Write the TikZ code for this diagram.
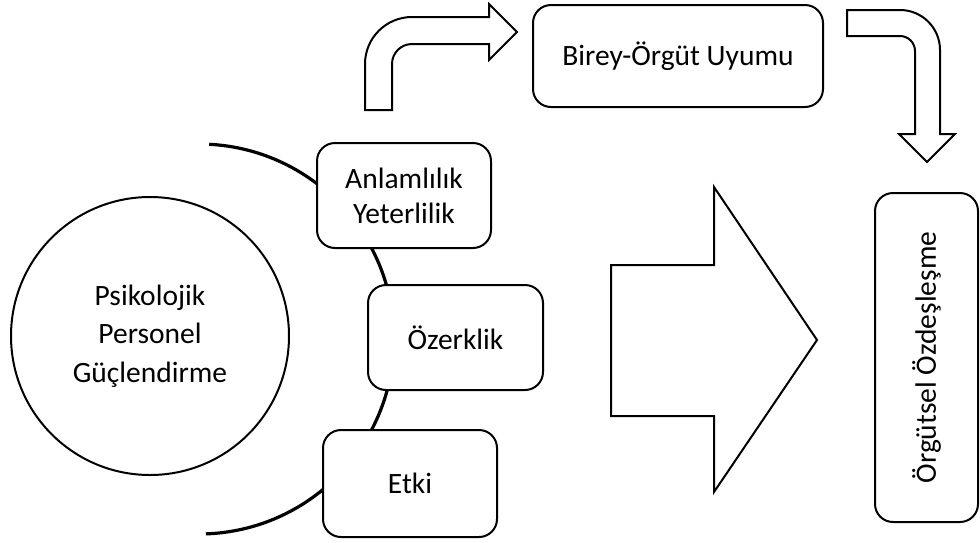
\documentclass[tikz,border=0pt]{standalone}
\usepackage{fontspec}
\setmainfont{Carlito}
\begin{document}
\begin{tikzpicture}[x=1pt,y=-1pt,
  lbl/.style={font=\fontsize{29.5}{35}\selectfont, align=center},
  rbox/.style={lbl, draw=black, line width=2pt, fill=white, rounded corners=18pt, inner sep=0pt},
  blockarrow/.style={draw=black, line width=2pt, fill=white, line join=miter},
  ring/.style={draw=black, line width=3.2pt}]
  \useasboundingbox (0,0) rectangle (980,542);

  % arc linking the three dimensions
  \coordinate (arcc) at (199,339);
  \draw[ring] (arcc) ++(-87:195) arc[start angle=-87, end angle=88, radius=195];

  % central concept
  \node[draw=black, line width=2pt, circle, minimum size=278pt, inner sep=0pt,
        font=\fontsize{29.5}{38.5}\selectfont, align=center]
    (pg) at (150,336) {Psikolojik\\Personel\\Güçlendirme};

  % dimensions
  \node[rbox, minimum width=174pt, minimum height=105pt] (an) at (404,195.5) {Anlamlılık\\Yeterlilik};
  \node[rbox, minimum width=175pt, minimum height=105pt] (oz) at (455.5,337.5) {Özerklik};
  \node[rbox, minimum width=174pt, minimum height=107pt] (et) at (410,483.5) {Etki};

  % outcomes
  \node[rbox, minimum width=290pt, minimum height=102pt] (bo) at (678,56) {Birey-Örgüt Uyumu};
  \node[rbox, rotate=90, minimum width=329pt, minimum height=103pt] (oo) at (926.5,357.5) {Örgütsel Özdeşleşme};

  % bent arrow towards Birey-Örgüt Uyumu
  \draw[blockarrow] (365,110) -- (365,64) arc[start angle=180, end angle=270, radius=47]
    -- (489,17) -- (489,4) -- (517,32) -- (489,60) -- (489,44)
    -- (412,44) arc[start angle=270, end angle=180, radius=20] -- (392,110) -- cycle;

  % bent arrow down to Örgütsel Özdeşleşme
  \draw[blockarrow] (847,10) -- (900,10) arc[start angle=270, end angle=360, radius=40]
    -- (940,134) -- (955,134) -- (927,162) -- (899,134) -- (915,134)
    -- (915,51) arc[start angle=0, end angle=-90, radius=15] -- (847,36) -- cycle;

  % large arrow
  \draw[blockarrow] (611,265) -- (714,265) -- (714,187) -- (817,340)
    -- (714,492) -- (714,416) -- (611,416) -- cycle;
\end{tikzpicture}
\end{document}
